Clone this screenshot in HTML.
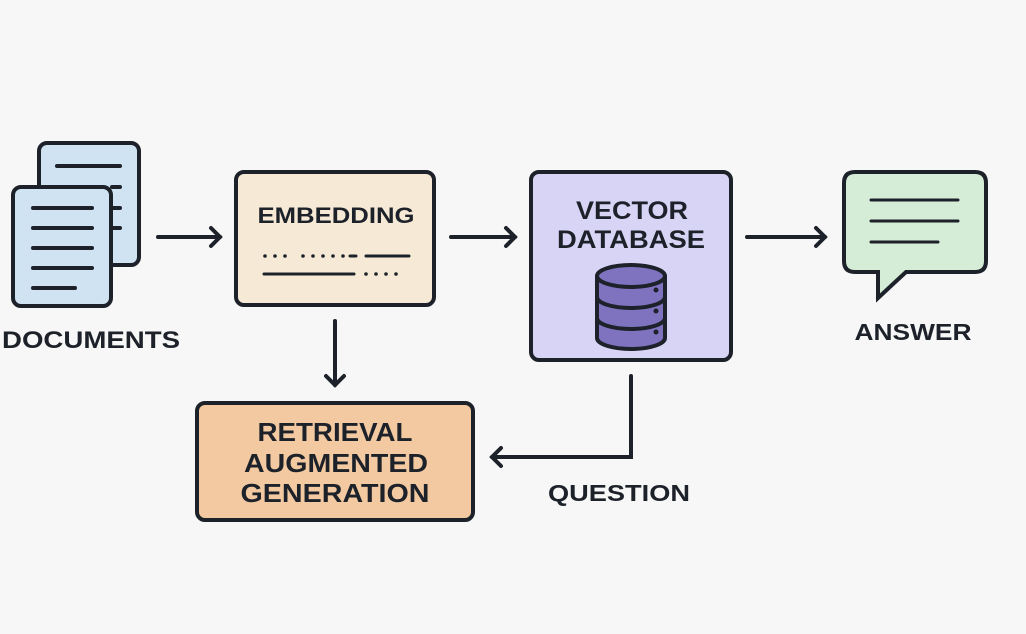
<!DOCTYPE html>
<html><head><meta charset="utf-8"><style>
html,body{margin:0;padding:0;background:#f7f7f7}
svg{display:block}
text{font-family:"Liberation Sans",sans-serif;font-weight:bold;fill:#1d2129;text-anchor:middle}
</style></head><body>
<svg width="1026" height="634" viewBox="0 0 1026 634" xmlns="http://www.w3.org/2000/svg">
<rect width="1026" height="634" fill="#f7f7f7"/>
<g stroke="#1d2129" stroke-width="4" stroke-linecap="round" fill="none">
<rect x="39" y="143" width="100" height="122" rx="8" fill="#cfe3f3"/>
<line x1="57" y1="166" x2="120" y2="166"/>
<line x1="112" y1="187" x2="120" y2="187"/>
<line x1="112" y1="208" x2="120" y2="208"/>
<line x1="112" y1="228" x2="120" y2="228"/>
<rect x="13" y="187" width="98" height="119" rx="8" fill="#cfe3f3"/>
<line x1="33" y1="208" x2="92" y2="208"/>
<line x1="33" y1="228" x2="92" y2="228"/>
<line x1="33" y1="248" x2="92" y2="248"/>
<line x1="33" y1="268" x2="92" y2="268"/>
<line x1="33" y1="288" x2="75" y2="288"/>
<line x1="158" y1="237" x2="220" y2="237"/>
<polyline points="211,228 220,237 211,246"/>
<rect x="236" y="172" width="198" height="133" rx="8" fill="#f6ead6"/>
<g stroke-width="3">
<line x1="350" y1="256" x2="356" y2="256"/>
<line x1="366" y1="256" x2="409" y2="256"/>
<line x1="264" y1="274" x2="354" y2="274"/>
</g>
<line x1="335" y1="321" x2="335" y2="385"/>
<polyline points="326,376 335,385 344,376"/>
<rect x="197" y="403" width="276" height="117" rx="8" fill="#f2c9a0"/>
<line x1="451" y1="237" x2="515" y2="237"/>
<polyline points="506,228 515,237 506,246"/>
<rect x="531" y="172" width="200" height="188" rx="8" fill="#d8d4f5"/>
<path d="M597,276 V338 A34,11 0 0 0 665,338 V276" fill="#7f73c0"/>
<ellipse cx="631" cy="276" rx="34" ry="11" fill="#7f73c0"/>
<path d="M597,297 A34,11 0 0 0 665,297"/>
<path d="M597,318 A34,11 0 0 0 665,318"/>
<line x1="747" y1="237" x2="825" y2="237"/>
<polyline points="816,228 825,237 816,246"/>
<path d="M855,172 H975 Q986,172 986,183 V261 Q986,272 975,272 H906 L878,298 L878,272 H855 Q844,272 844,261 V183 Q844,172 855,172 Z" fill="#d5ecd6"/>
<line x1="871" y1="200" x2="958" y2="200" stroke-width="3"/>
<line x1="871" y1="221" x2="958" y2="221" stroke-width="3"/>
<line x1="871" y1="242" x2="938" y2="242" stroke-width="3"/>
<polyline points="631,376 631,457 492,457"/>
<polyline points="501,448 492,457 501,466"/>
</g>
<g fill="#1d2129">
<circle cx="656" cy="290" r="2.5"/><circle cx="656" cy="311" r="2.5"/><circle cx="656" cy="332" r="2.5"/>
<circle cx="265" cy="256" r="1.8"/><circle cx="275" cy="256" r="1.8"/><circle cx="285" cy="256" r="1.8"/>
<circle cx="303" cy="256" r="1.8"/><circle cx="313" cy="256" r="1.8"/><circle cx="323" cy="256" r="1.8"/><circle cx="333" cy="256" r="1.8"/><circle cx="343" cy="256" r="1.8"/>
<circle cx="366" cy="274" r="1.8"/><circle cx="376" cy="274" r="1.8"/><circle cx="386" cy="274" r="1.8"/><circle cx="396" cy="274" r="1.8"/>
</g>
<g lengthAdjust="spacingAndGlyphs">
<text x="91" y="348" font-size="24" textLength="178" lengthAdjust="spacingAndGlyphs">DOCUMENTS</text>
<text x="336" y="223" font-size="22" textLength="157" lengthAdjust="spacingAndGlyphs">EMBEDDING</text>
<text x="632" y="219" font-size="25" textLength="112" lengthAdjust="spacingAndGlyphs">VECTOR</text>
<text x="631" y="248" font-size="25" textLength="148" lengthAdjust="spacingAndGlyphs">DATABASE</text>
<text x="913" y="340" font-size="23" textLength="117" lengthAdjust="spacingAndGlyphs">ANSWER</text>
<text x="335" y="441" font-size="26" textLength="155" lengthAdjust="spacingAndGlyphs">RETRIEVAL</text>
<text x="336" y="472" font-size="26" textLength="184" lengthAdjust="spacingAndGlyphs">AUGMENTED</text>
<text x="335" y="502" font-size="26" textLength="189" lengthAdjust="spacingAndGlyphs">GENERATION</text>
<text x="619" y="501" font-size="23" textLength="142" lengthAdjust="spacingAndGlyphs">QUESTION</text>
</g>
</svg>
</body></html>
